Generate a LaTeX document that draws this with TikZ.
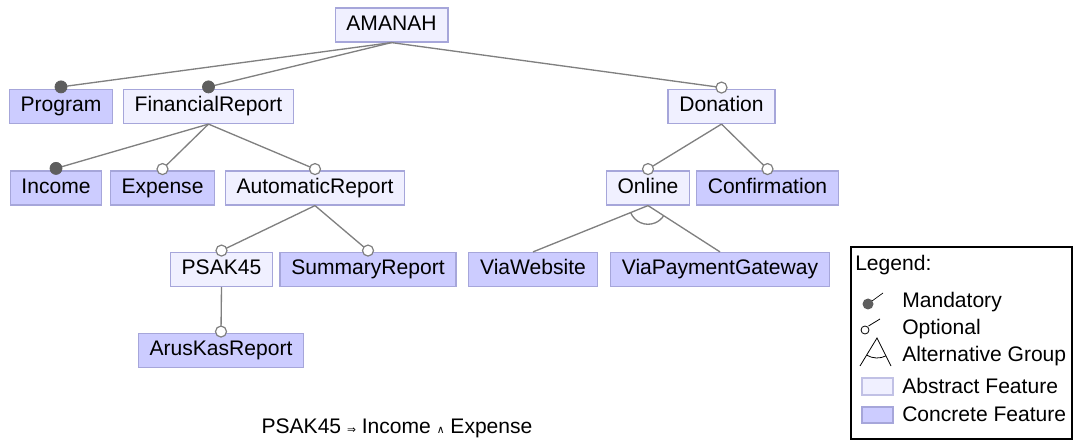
\documentclass[tikz,border=0pt]{standalone}
\usepackage{fontspec}
\setmainfont{Liberation Sans}
\newfontfamily\symfont{DejaVu Sans}
\usetikzlibrary{calc}

\definecolor{absfill}{HTML}{F0F0FF}
\definecolor{concfill}{HTML}{CCCCFF}
\definecolor{boxline}{HTML}{A6A6DA}
\definecolor{edgegray}{HTML}{808080}
\definecolor{dotgray}{HTML}{5E5E5E}

\begin{document}
\begin{tikzpicture}[x=0.75pt, y=0.75pt, font=\fontsize{15.8}{18}\selectfont]
	\tikzstyle{feature} = [draw=boxline, line width=0.9pt, text height=11.6pt, text depth=3.4pt, minimum height=25.5pt, inner xsep=8.5pt, inner ysep=0pt]
	\tikzstyle{abstract} = [feature, fill=absfill]
	\tikzstyle{concrete} = [feature, fill=concfill]
	\tikzstyle{edge} = [draw=edgegray, line width=1pt]
	\tikzstyle{mandatory} = [fill=dotgray, draw=dotgray, line width=0.6pt]
	\tikzstyle{optional} = [fill=white, draw=edgegray, line width=0.9pt]
	\tikzstyle{entry} = [anchor=west, inner sep=0pt]

	\useasboundingbox (0,0) rectangle (1075,-445);

	% Define nodes
	\node[abstract] (AMANAH) at (391.5,-25) {AMANAH};
	\node[concrete] (Program) at (61,-106.5) {Program};
	\node[abstract] (FinancialReport) at (208.5,-106.5) {FinancialReport};
	\node[abstract] (Donation) at (721.5,-106.5) {Donation};
	\node[concrete] (Income) at (56,-188) {Income};
	\node[concrete] (Expense) at (162.5,-188) {Expense};
	\node[abstract] (AutomaticReport) at (315,-188) {AutomaticReport};
	\node[abstract] (Online) at (648,-188) {Online};
	\node[concrete] (Confirmation) at (767.5,-188) {Confirmation};
	\node[abstract] (PSAK45) at (221.5,-269.5) {PSAK45};
	\node[concrete] (SummaryReport) at (368,-269.5) {SummaryReport};
	\node[concrete] (ViaWebsite) at (533,-269.5) {ViaWebsite};
	\node[concrete] (ViaPaymentGateway) at (720,-269.5) {ViaPaymentGateway};
	\node[concrete] (ArusKasReport) at (221,-350.5) {ArusKasReport};

	% Mandatory edges
	\foreach \p/\c in {AMANAH/Program, AMANAH/FinancialReport, FinancialReport/Income} {
		\draw[edge] (\p.south) -- ([yshift=1.5pt]\c.north);
		\filldraw[mandatory] ([yshift=1.5pt]\c.north) circle (6);
	}

	% Optional edges
	\foreach \p/\c in {AMANAH/Donation, FinancialReport/Expense, FinancialReport/AutomaticReport,
		Donation/Online, Donation/Confirmation, AutomaticReport/PSAK45,
		AutomaticReport/SummaryReport, PSAK45/ArusKasReport} {
		\draw[edge] (\p.south) -- ([yshift=1pt]\c.north);
		\filldraw[optional] ([yshift=1pt]\c.north) circle (5.5);
	}

	% Alternative group
	\draw[edge] (Online.south) -- (ViaWebsite.north);
	\draw[edge] (Online.south) -- (ViaPaymentGateway.north);
	\draw[edge] let \p1 = ($(ViaWebsite.north)-(Online.south)$),
		\p2 = ($(ViaPaymentGateway.north)-(Online.south)$),
		\n1 = {atan2(\y1,\x1)}, \n2 = {atan2(\y2,\x2)} in
		($(Online.south)!14pt!(ViaWebsite.north)$) arc[start angle=\n1, end angle=\n2, radius=14pt];

	% Constraint
	\node (constraint) at (397,-428) {PSAK45 {\symfont\fontsize{8}{8}\selectfont ⇒} Income {\symfont\fontsize{8}{8}\selectfont ∧} Expense};

	% Legend
	\draw[black, line width=0.8pt] (851,-247) rectangle (1072,-439);
	\node[entry] (legend) at (855,-265) {Legend:};
	\node[entry] (lmand) at (902,-302) {Mandatory};
	\node[entry] (lopt) at (902,-329) {Optional};
	\node[entry] (lalt) at (902,-356) {Alternative Group};
	\node[entry] (labs) at (902,-386) {Abstract Feature};
	\node[entry] (lconc) at (902,-414) {Concrete Feature};
	\draw[black, line width=0.5pt] (872,-301) -- (883,-293);
	\fill[dotgray] (868,-304) circle (5.5);
	\draw[black, line width=0.6pt] (868.5,-326) -- (880,-319);
	\draw[black, line width=0.6pt] (865,-330) circle (4);
	\draw[black, line width=0.6pt] (860,-366) -- (877,-338) -- (891,-366);
	\draw[black, line width=0.6pt] (877,-338) ++(-121:20) arc[start angle=-121, end angle=-63, radius=20];
	\draw[draw=boxline!70, fill=absfill, line width=0.8pt] (862,-378) rectangle (893,-395);
	\draw[draw=boxline, fill=concfill, line width=0.8pt] (862,-407) rectangle (893,-423);
\end{tikzpicture}
\end{document}
